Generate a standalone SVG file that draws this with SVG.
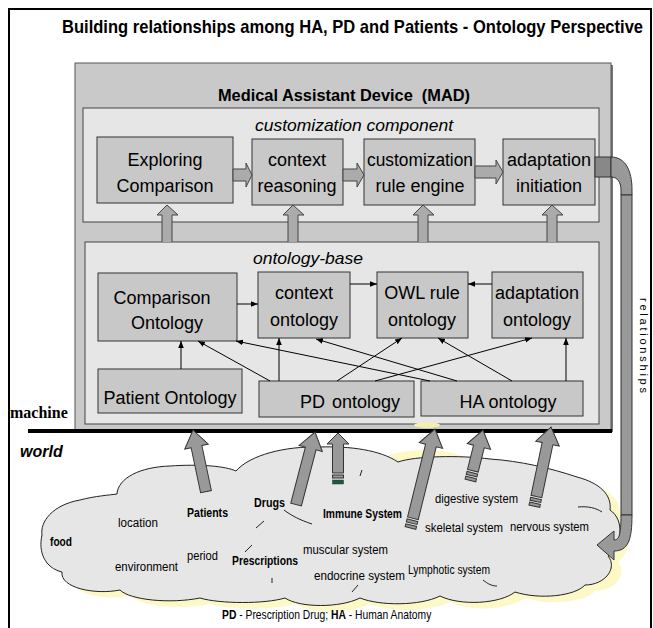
<svg xmlns="http://www.w3.org/2000/svg" width="653" height="628" viewBox="0 0 653 628">
<defs>
<marker id="ah" viewBox="0 0 10 10" refX="10" refY="5" markerWidth="7" markerHeight="7" orient="auto" markerUnits="userSpaceOnUse"><path d="M0,1 L10,5 L0,9 Z" fill="#000"/></marker>
</defs>
<style>
text{font-family:"Liberation Sans",Arial,sans-serif;fill:#000}
.node rect{fill:#c8c8c8;stroke:#333;stroke-width:1}
.lbl{font-size:18px;text-anchor:middle}
.cont{fill:#e6e6e6;stroke:#444;stroke-width:1}
.thin{stroke:#000;stroke-width:1;fill:none;marker-end:url(#ah)}
.fat{fill:#ababab;stroke:#444;stroke-width:1}
.big{fill:#999;stroke:#333;stroke-width:1}
.cl{font-size:12.5px}
.b{font-weight:bold}
.arc{fill:none;stroke:#222;stroke-width:1}
</style>
<rect width="653" height="628" fill="#fff"/>
<rect x="9" y="9" width="642" height="625" fill="none" stroke="#000" stroke-width="2"/>
<text transform="translate(62,33) scale(0.92,1)" font-size="18" font-weight="bold">Building relationships among HA, PD and Patients - Ontology Perspective</text>

<!-- MAD container -->
<g id="mad">
<rect x="77" y="65" width="536" height="367" fill="#777"/>
<rect x="75" y="63" width="536" height="367" fill="#c9c9c9" stroke="#555"/>
<text x="344" y="101" font-size="17" font-weight="bold" textLength="252" lengthAdjust="spacingAndGlyphs" text-anchor="middle" style="white-space:pre" xml:space="preserve">Medical Assistant Device  (MAD)</text>
</g>
<g id="customization-component">
<rect class="cont" x="83" y="108" width="516" height="114"/>
<text x="354" y="131" font-size="17" font-style="italic" text-anchor="middle" textLength="198" lengthAdjust="spacingAndGlyphs">customization component</text>
</g>
<g id="ontology-base">
<rect class="cont" x="85" y="242" width="514" height="182"/>
<text x="308" y="264" font-size="17" font-style="italic" text-anchor="middle" textLength="110" lengthAdjust="spacingAndGlyphs">ontology-base</text>
</g>

<g id="exploring-comparison" class="node"><rect x="97" y="137" width="136" height="66"/>
<text class="lbl" x="165" y="166">Exploring</text><text class="lbl" x="165" y="192">Comparison</text></g>
<g id="context-reasoning" class="node"><rect x="252" y="139" width="91" height="66"/>
<text class="lbl" x="297" y="166">context</text><text class="lbl" x="297" y="192">reasoning</text></g>
<g id="customization-rule-engine" class="node"><rect x="364" y="139" width="111" height="66"/>
<text class="lbl" x="420" y="166" textLength="106" lengthAdjust="spacingAndGlyphs">customization</text><text class="lbl" x="420" y="192">rule engine</text></g>
<g id="adaptation-initiation" class="node"><rect x="503" y="139" width="92" height="66"/>
<text class="lbl" x="549" y="166">adaptation</text><text class="lbl" x="549" y="192">initiation</text></g>

<g id="comparison-ontology" class="node"><rect x="98" y="273" width="139" height="68"/>
<text class="lbl" x="162" y="304">Comparison</text><text class="lbl" x="167" y="329">Ontology</text></g>
<g id="context-ontology" class="node"><rect x="258" y="272" width="92" height="66"/>
<text class="lbl" x="304" y="299">context</text><text class="lbl" x="304" y="326">ontology</text></g>
<g id="owl-rule-ontology" class="node"><rect x="377" y="272" width="91" height="66"/>
<text class="lbl" x="422" y="299">OWL rule</text><text class="lbl" x="422" y="326">ontology</text></g>
<g id="adaptation-ontology" class="node"><rect x="492" y="272" width="91" height="66"/>
<text class="lbl" x="537" y="299">adaptation</text><text class="lbl" x="537" y="326">ontology</text></g>
<g id="patient-ontology" class="node"><rect x="98" y="369" width="144" height="44"/>
<text class="lbl" x="170" y="404">Patient Ontology</text></g>
<g id="pd-ontology" class="node"><rect x="259" y="381" width="155" height="36"/>
<text font-size="18" x="300" y="408">PD<tspan dx="7">ontology</tspan></text></g>
<g id="ha-ontology" class="node"><rect x="421" y="381" width="162" height="35"/>
<text class="lbl" x="508" y="408">HA ontology</text></g>

<g id="connectors">
<path class="fat" d="M233,169 L246,169 L246,163 L252,175 L246,187 L246,181 L233,181 Z"/>
<path class="fat" d="M343,169 L357,169 L357,163 L364,175 L357,187 L357,181 L343,181 Z"/>
<path class="fat" d="M475,166 L496,166 L496,160 L503,172 L496,184 L496,178 L475,178 Z"/>
<path class="fat" d="M162,242 L162,215 L157,215 L167,205 L178,215 L172,215 L172,242"/>
<path class="fat" d="M288,242 L288,215 L283,215 L293,205 L304,215 L298,215 L298,242"/>
<path class="fat" d="M418,242 L418,215 L413,215 L423,205 L434,215 L428,215 L428,242"/>
<path class="fat" d="M547,242 L547,215 L542,215 L552,205 L563,215 L557,215 L557,242"/>
<line class="thin" x1="237" y1="304" x2="258" y2="304"/>
<line class="thin" x1="350" y1="284" x2="377" y2="284"/>
<line class="thin" x1="492" y1="284" x2="468" y2="284"/>
<line class="thin" x1="181" y1="369" x2="181" y2="341"/>
<line class="thin" x1="270" y1="381" x2="198" y2="341"/>
<line class="thin" x1="279" y1="381" x2="279" y2="338"/>
<line class="thin" x1="337" y1="381" x2="402" y2="338"/>
<line class="thin" x1="375" y1="381" x2="532" y2="338"/>
<line class="thin" x1="430" y1="381" x2="236" y2="341"/>
<line class="thin" x1="457" y1="381" x2="316" y2="339"/>
<line class="thin" x1="512" y1="381" x2="438" y2="338"/>
<line class="thin" x1="566" y1="381" x2="566" y2="338"/>
</g>

<text x="10" y="418" font-size="16" font-weight="bold" style="font-family:'Liberation Serif',serif">machine</text>
<text x="20" y="457" font-size="16" font-weight="bold" font-style="italic">world</text>
<line x1="28" y1="431" x2="612" y2="431" stroke="#000" stroke-width="4"/>
<ellipse cx="427" cy="425" rx="13" ry="3" fill="#f2efb0"/>

<g id="world-cloud">
<ellipse cx="425" cy="462" rx="42" ry="12" fill="#fcf9c6"/>
<path transform="translate(10,6)" fill="#fcf9c6" d="M42,535 C40,522 52,505 80,500 C95,496 110,495 117,494 C118,478 140,467 170,466 C200,464 225,466 236,471 C250,455 285,446 320,447 C350,446 380,450 398,462 C415,456 460,455 490,459 C520,461 550,468 577,477 C600,483 612,495 610,510 C625,520 622,545 608,556 C618,568 605,585 585,585 C575,596 540,600 515,592 C500,604 460,606 440,596 C420,606 380,606 360,598 C340,608 300,608 285,598 C265,604 220,604 200,598 C170,604 130,600 120,590 C95,595 60,588 62,572 C45,568 38,552 42,535 Z"/>
<path fill="#e6e6e6" stroke="#222" stroke-width="1" d="M42,535 C40,522 52,505 80,500 C95,496 110,495 117,494 C118,478 140,467 170,466 C200,464 225,466 236,471 C250,455 285,446 320,447 C350,446 380,450 398,462 C415,456 460,455 490,459 C520,461 550,468 577,477 C600,483 612,495 610,510 C625,520 622,545 608,556 C618,568 605,585 585,585 C575,596 540,600 515,592 C500,604 460,606 440,596 C420,606 380,606 360,598 C340,608 300,608 285,598 C265,604 220,604 200,598 C170,604 130,600 120,590 C95,595 60,588 62,572 C45,568 38,552 42,535 Z"/>
<path class="arc" d="M284,510 C292,516 300,520 312,524"/>
<path class="arc" d="M256,528 L264,521"/>
<path class="arc" d="M245,552 L252,545"/>
<path class="arc" d="M272,578 L272,583"/>
<path class="arc" d="M360,476 L362,470"/>
<path class="arc" d="M352,592 L358,585"/>
<path class="arc" d="M483,580 C488,584 492,586 497,586"/>
<path class="arc" d="M578,507 C588,506 596,508 602,512"/>
<text class="cl b" x="50" y="546" textLength="22" lengthAdjust="spacingAndGlyphs">food</text>
<text class="cl" x="118" y="527" textLength="40" lengthAdjust="spacingAndGlyphs">location</text>
<text class="cl b" x="187" y="517" textLength="41" lengthAdjust="spacingAndGlyphs">Patients</text>
<text class="cl" x="115" y="571" textLength="63" lengthAdjust="spacingAndGlyphs">environment</text>
<text class="cl" x="187" y="560" textLength="31" lengthAdjust="spacingAndGlyphs">period</text>
<text class="cl b" x="232" y="565" textLength="66" lengthAdjust="spacingAndGlyphs">Prescriptions</text>
<text class="cl b" x="254" y="507" textLength="31" lengthAdjust="spacingAndGlyphs">Drugs</text>
<text class="cl b" x="323" y="518" textLength="79" lengthAdjust="spacingAndGlyphs">Immune System</text>
<text class="cl" x="435" y="503" textLength="83" lengthAdjust="spacingAndGlyphs">digestive system</text>
<text class="cl" x="425" y="532" textLength="78" lengthAdjust="spacingAndGlyphs">skeletal system</text>
<text class="cl" x="510" y="531" textLength="79" lengthAdjust="spacingAndGlyphs">nervous system</text>
<text class="cl" x="303" y="554" textLength="85" lengthAdjust="spacingAndGlyphs">muscular system</text>
<text class="cl" x="314" y="580" textLength="91" lengthAdjust="spacingAndGlyphs">endocrine system</text>
<text class="cl" x="408" y="574" textLength="82" lengthAdjust="spacingAndGlyphs">Lymphotic system</text>
</g>

<g id="world-arrows">
<path class="big" transform="translate(193,430) rotate(-11.9)" d="M0,0 L12,17 L5.5,17 L5.5,63 L-5.5,63 L-5.5,17 L-12,17 Z"/>
<path class="big" transform="translate(315,432) rotate(14.6)" d="M0,0 L12,17 L5.5,17 L5.5,75 L-5.5,75 L-5.5,17 L-12,17 Z"/>
<g transform="translate(338,433)">
<path class="big" d="M0,0 L11,11 L5.5,11 L5.5,40 L-5.5,40 L-5.5,11 L-11,11 Z"/>
<rect class="big" x="-5.5" y="42" width="11" height="3"/>
<rect x="-5.5" y="47" width="11" height="4" fill="#1d5a3c" stroke="#333" stroke-width="0.5"/>
</g>
<g transform="translate(435,429) rotate(13.9)">
<path class="big" d="M0,0 L12,17 L5.5,17 L5.5,92 L-5.5,92 L-5.5,17 L-12,17 Z"/>
<rect class="big" x="-5.5" y="94" width="11" height="3"/>
<rect class="big" x="-5.5" y="99" width="11" height="3"/>
</g>
<g transform="translate(483,430) rotate(14)">
<path class="big" d="M0,0 L12,17 L5.5,17 L5.5,42 L-5.5,42 L-5.5,17 L-12,17 Z"/>
<rect class="big" x="-5.5" y="44" width="11" height="3"/>
<rect class="big" x="-5.5" y="49" width="11" height="3"/>
</g>
<g transform="translate(551,427) rotate(11.85)">
<path class="big" d="M0,0 L12,17 L5.5,17 L5.5,71 L-5.5,71 L-5.5,17 L-12,17 Z"/>
<rect class="big" x="-5.5" y="73" width="11" height="3"/>
<rect class="big" x="-5.5" y="78" width="11" height="3"/>
</g>
</g>

<g id="relationships">
<rect x="595" y="157" width="16" height="20" fill="#888" stroke="#333"/>
<path class="big" d="M611,157 C625,157 632,170 632,190 L632,195 L621,195 L621,190 C621,183 618,177 611,177 Z"/>
<rect class="big" x="621" y="195" width="11" height="320"/>
<path class="big" d="M621,515 L632,515 C632,540 628,551 614,551 L614,560 L597,545 L614,531 L614,540 C619,540 621,535 621,515 Z"/>
<text transform="translate(640,298) rotate(90)" font-size="11" textLength="95" lengthAdjust="spacing">relationships</text>
</g>

<text transform="translate(222,619) scale(0.86,1)" font-size="12"><tspan font-weight="bold">PD</tspan> - Prescription Drug; <tspan font-weight="bold">HA</tspan> - Human Anatomy</text>
</svg>
